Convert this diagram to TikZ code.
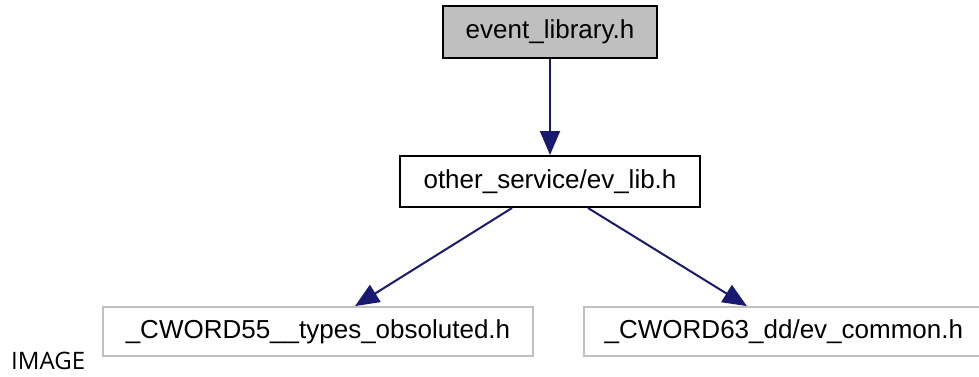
\documentclass[tikz,border=0pt]{standalone}
\usepackage{fontspec}
\setmainfont{Liberation Sans}
\newfontfamily\labelfont{Open Sans}
\usetikzlibrary{arrows.meta}
\definecolor{edgeblue}{HTML}{191970}
\definecolor{boxgray}{HTML}{BFBFBF}
\definecolor{paleline}{HTML}{C0C0C0}
\tikzset{
  filebox/.style={draw=black, line width=2pt, inner sep=0pt, font=\fontsize{26}{28}\selectfont},
  extbox/.style={draw=paleline, line width=1.8pt, inner sep=0pt, minimum height=49pt, font=\fontsize{26}{28}\selectfont},
  dep/.style={draw=edgeblue, line width=2pt, -{Triangle[length=24pt,width=20pt]}}
}
\begin{document}
\begin{tikzpicture}[x=1pt,y=-1pt]
  \useasboundingbox (0,0) rectangle (979,377);
  \clip (0,0) rectangle (979,377);
  \node[filebox, fill=boxgray, minimum width=214pt, minimum height=52pt] (top) at (550,32) {event\_library.h};
  \node[filebox, fill=white, minimum width=300pt, minimum height=51pt] (mid) at (550,181.5) {other\_service/ev\_lib.h};
  \node[extbox, minimum width=430pt] (left) at (318,331.5) {\_CWORD55\_\_types\_obsoluted.h};
  % the right-hand box runs past the page edge
  \node[extbox, minimum width=400pt, anchor=west] (right) at (583,331.5) {\_CWORD63\_dd/ev\_common.h};
  \draw[draw=white, line width=3pt] (981,300) -- (981,365);
  \node[anchor=base west, inner sep=0pt, font=\labelfont\fontsize{24}{26}\selectfont] (caption) at (11,369) {IMAGE};
  \draw[dep] (top) -- (mid);
  \draw[dep] ([xshift=-38pt]mid.south) -- ([xshift=37pt]left.north);
  \draw[dep] ([xshift=38pt]mid.south) -- ([xshift=-37pt]right.north);
\end{tikzpicture}
\end{document}
